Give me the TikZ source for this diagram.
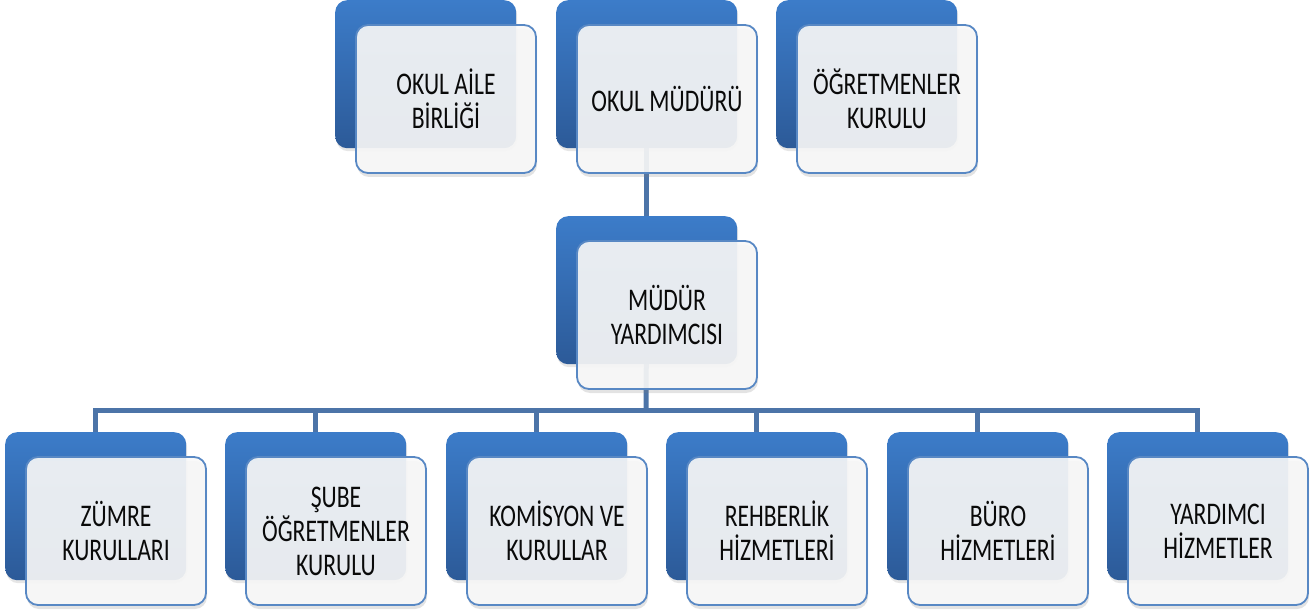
\documentclass[tikz,border=0pt]{standalone}
\usepackage{fontspec}
\setmainfont{Carlito}[FakeStretch=0.75]
\usetikzlibrary{shadows,backgrounds}
\definecolor{btop}{RGB}{60,124,201}
\definecolor{bbot}{RGB}{44,90,152}
\definecolor{wfill}{RGB}{248,248,248}
\definecolor{wline}{RGB}{88,136,196}
\definecolor{conn}{RGB}{76,116,168}
\definecolor{txt}{RGB}{10,10,10}
\tikzset{
  back/.style={rounded corners=12pt, minimum width=181pt, minimum height=148pt,
    anchor=north west, inner sep=0pt, top color=btop, bottom color=bbot, draw=none,
    drop shadow={opacity=0.2, shadow xshift=1pt, shadow yshift=-3pt}},
  front/.style={rounded corners=12pt, minimum width=180pt, minimum height=148pt,
    align=center, inner sep=0pt, draw=wline, line width=1.8pt, fill=wfill,
    fill opacity=0.91, text opacity=1, text=txt,
    font=\fontsize{31.5}{34}\selectfont,
    drop shadow={opacity=0.22, shadow xshift=1pt, shadow yshift=-4pt}},
  conline/.style={draw=conn, line width=5pt}
}
\begin{document}
\begin{tikzpicture}[x=1pt,y=-1pt]
\useasboundingbox (0,0) rectangle (1315,612);
% top row
\node[back] (bAile) at (335,0) {};
\node[back] (bMud) at (556,0) {};
\node[back] (bOgr) at (776,0) {};
% middle
\node[back] (bYrd) at (556,216) {};
% bottom row
\node[back] (bZum) at (5,432) {};
\node[back] (bSub) at (225,432) {};
\node[back] (bKom) at (446,432) {};
\node[back] (bReh) at (666,432) {};
\node[back] (bBur) at (887,432) {};
\node[back] (bYar) at (1107,432) {};
\coordinate (bus) at (646,410);
\begin{scope}[on background layer]
  \draw[conline] (bMud.center) -- (bYrd.center);
  \draw[conline] (bYrd.center) -- (bus);
  \draw[conline] (bZum.center) |- (bus) -| (bYar.center);
  \draw[conline] (bSub.center) -- (bSub.center |- bus);
  \draw[conline] (bKom.center) -- (bKom.center |- bus);
  \draw[conline] (bReh.center) -- (bReh.center |- bus);
  \draw[conline] (bBur.center) -- (bBur.center |- bus);
\end{scope}
% front boxes
\node[front] (wAile) at (446,99) {OKUL AİLE\\BİRLİĞİ};
\node[front] (wMud) at (667,99) {OKUL MÜDÜRÜ};
\node[front] (wOgr) at (887,99) {ÖĞRETMENLER\\KURULU};
\node[front] (wYrd) at (667,315) {MÜDÜR\\YARDIMCISI};
\node[front] (wZum) at (116,531) {ZÜMRE\\KURULLARI};
\node[front] (wSub) at (336,531) {ŞUBE\\ÖĞRETMENLER\\KURULU};
\node[front] (wKom) at (557,531) {KOMİSYON VE\\KURULLAR};
\node[front] (wReh) at (777,531) {REHBERLİK\\HİZMETLERİ};
\node[front] (wBur) at (998,531) {BÜRO\\HİZMETLERİ};
\node[front] (wYar) at (1218,531) {YARDIMCI\\HİZMETLER};
\end{tikzpicture}
\end{document}
